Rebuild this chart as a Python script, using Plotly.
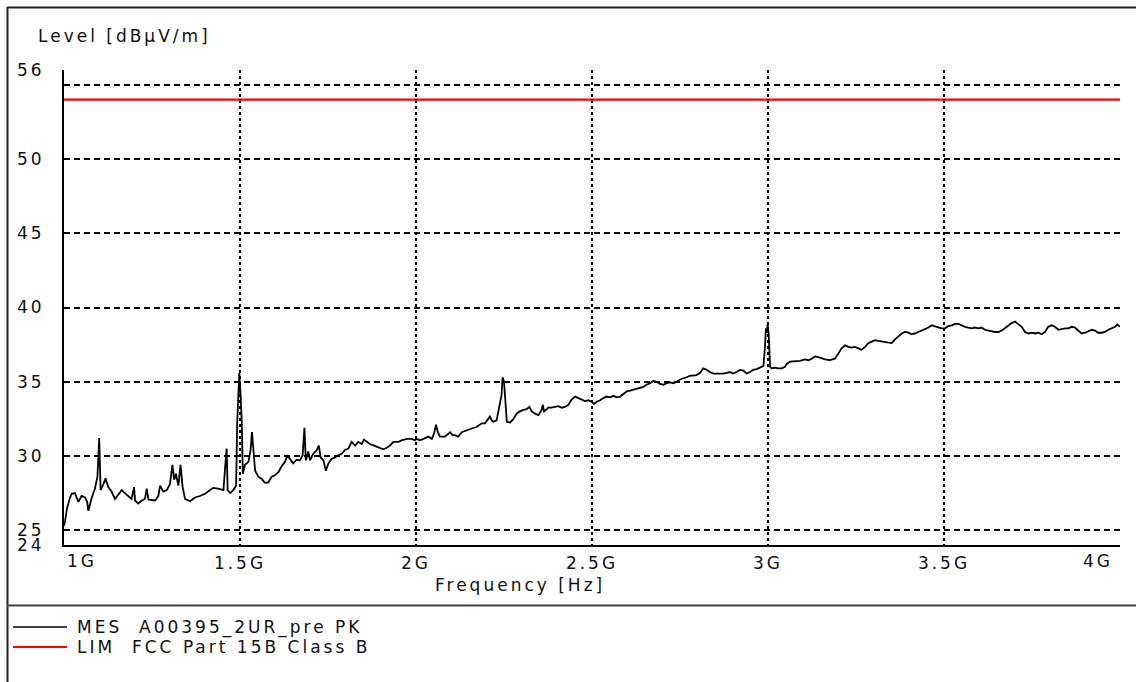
import plotly.graph_objects as go

# ---------------- data ----------------
freq_ghz = [
    1.000, 1.003, 1.008, 1.012, 1.017, 1.022, 1.031, 1.041, 1.050, 1.060, 1.066, 1.069, 1.079, 1.088,
    1.095, 1.100, 1.102, 1.104, 1.112, 1.118, 1.126, 1.135, 1.145, 1.154, 1.164, 1.173, 1.183, 1.192,
    1.199, 1.202, 1.211, 1.221, 1.230, 1.235, 1.240, 1.249, 1.259, 1.268, 1.273, 1.282, 1.292, 1.301,
    1.308, 1.313, 1.318, 1.325, 1.331, 1.337, 1.344, 1.358, 1.372, 1.386, 1.401, 1.415, 1.424, 1.438,
    1.453, 1.457, 1.462, 1.465, 1.472, 1.481, 1.489, 1.492, 1.495, 1.498, 1.502, 1.505, 1.508, 1.514,
    1.524, 1.530, 1.534, 1.538,
    1.543, 1.552, 1.562, 1.570, 1.580, 1.590, 1.599, 1.609, 1.618, 1.628, 1.634, 1.642, 1.651, 1.661,
    1.670, 1.678, 1.683, 1.687, 1.694, 1.699, 1.708, 1.718, 1.724, 1.729, 1.737, 1.744, 1.751, 1.760,
    1.770, 1.779, 1.789, 1.798, 1.808, 1.817, 1.827, 1.836, 1.846, 1.852, 1.860, 1.869, 1.881, 1.893,
    1.907, 1.917, 1.926, 1.936, 1.950, 1.959, 1.974, 1.988, 1.997, 2.002, 2.011, 2.021, 2.035, 2.045,
    2.051, 2.057, 2.062, 2.068, 2.082, 2.097, 2.104, 2.111, 2.120, 2.130, 2.144, 2.158, 2.172, 2.187,
    2.196, 2.205, 2.210, 2.215, 2.220, 2.229, 2.237, 2.243, 2.246, 2.250, 2.253, 2.258,
    2.267, 2.277, 2.286, 2.295, 2.305, 2.314, 2.322, 2.329, 2.338, 2.348, 2.357, 2.360, 2.364, 2.376,
    2.385, 2.395, 2.404, 2.414, 2.423, 2.433, 2.442, 2.452, 2.461, 2.471, 2.480, 2.490, 2.499, 2.506,
    2.513, 2.523, 2.532, 2.542, 2.551, 2.561, 2.570, 2.580, 2.589, 2.599, 2.608, 2.617, 2.627, 2.636,
    2.646, 2.655, 2.665, 2.674, 2.684, 2.693, 2.703, 2.712, 2.722, 2.731, 2.741, 2.750, 2.759, 2.769,
    2.778, 2.788, 2.797, 2.807, 2.816, 2.826, 2.835, 2.845, 2.854, 2.864, 2.873, 2.883, 2.892, 2.901,
    2.911, 2.920, 2.930, 2.939, 2.949, 2.958, 2.968, 2.977, 2.987, 2.991, 2.994, 2.997, 2.999, 3.002,
    3.004, 3.006, 3.010, 3.020, 3.029, 3.039, 3.048, 3.053,
    3.063, 3.077, 3.091, 3.105, 3.115, 3.124, 3.134, 3.143, 3.153, 3.162, 3.176, 3.190, 3.200, 3.209,
    3.219, 3.228, 3.238, 3.247, 3.257, 3.266, 3.276, 3.285, 3.295, 3.304, 3.313, 3.323, 3.332, 3.342,
    3.351, 3.361, 3.370, 3.380, 3.389, 3.399, 3.408, 3.418, 3.427, 3.437, 3.446, 3.456, 3.465, 3.474,
    3.484, 3.493, 3.503, 3.512, 3.522, 3.531, 3.541, 3.550, 3.560, 3.569, 3.579, 3.588, 3.598, 3.607,
    3.616, 3.626, 3.635, 3.645, 3.654, 3.664, 3.673, 3.683, 3.692, 3.702, 3.711, 3.721, 3.730, 3.740,
    3.749, 3.759, 3.768, 3.778, 3.787, 3.796, 3.806, 3.815, 3.825, 3.834, 3.844, 3.853, 3.863, 3.872,
    3.882, 3.891, 3.901, 3.910, 3.920, 3.929, 3.938, 3.948, 3.957, 3.967, 3.976, 3.986, 3.992, 3.998,
    4.000,
]

mes_level = [
    25.3, 25.6, 26.4, 26.8, 27.2, 27.45, 27.5, 26.9, 27.3, 27.2, 26.9, 26.3, 27.2, 27.8,
    28.6, 31.2, 29.5, 27.7, 28.1, 28.5, 27.9, 27.6, 27.1, 27.4, 27.7, 27.5, 27.3, 27.1,
    27.9, 27.0, 26.8, 27.0, 27.1, 27.8, 27.05, 27.05, 27.0, 27.3, 28.0, 27.6, 27.7, 28.1,
    29.4, 28.4, 28.8, 28.0, 29.4, 27.9, 27.1, 26.95, 27.2, 27.3, 27.45, 27.7, 27.85, 27.8,
    27.7, 29.0, 30.5, 27.7, 27.5, 27.7, 28.0, 32.2, 33.5, 35.6, 34.0, 32.3, 28.8, 29.4,
    29.6, 30.4, 31.6, 30.5,
    29.0, 28.6, 28.45, 28.2, 28.2, 28.6, 28.7, 28.9, 29.3, 29.6, 30.0, 29.8, 29.5, 29.75,
    29.7, 30.05, 31.9, 29.7, 30.3, 29.7, 30.15, 30.4, 30.7, 29.9, 29.7, 29.0, 29.5, 29.8,
    29.9, 30.05, 30.15, 30.4, 30.5, 30.95, 30.7, 30.95, 30.8, 31.1, 30.95, 30.8, 30.7, 30.6,
    30.45, 30.55, 30.7, 30.95, 30.95, 31.05, 31.15, 31.15, 31.05, 31.15, 31.05, 31.15, 31.3, 31.15,
    31.5, 32.1, 31.6, 31.3, 31.3, 31.6, 31.4, 31.4, 31.3, 31.6, 31.75, 31.85, 31.95, 32.2,
    32.2, 32.5, 32.65, 32.4, 32.3, 32.4, 33.5, 34.1, 35.3, 35.0, 34.0, 32.3,
    32.25, 32.5, 32.85, 33.0, 33.1, 33.15, 33.3, 33.0, 32.85, 32.75, 33.1, 33.45, 33.0, 33.25,
    33.25, 33.3, 33.35, 33.25, 33.3, 33.45, 33.8, 34.0, 33.9, 33.75, 33.7, 33.75, 33.65, 33.5,
    33.65, 33.75, 33.9, 34.0, 33.95, 34.05, 33.95, 34.0, 34.15, 34.35, 34.4, 34.45, 34.55, 34.55,
    34.65, 34.8, 34.9, 35.05, 35.0, 34.85, 34.8, 34.9, 34.95, 34.9, 35.0, 35.15, 35.2, 35.3,
    35.4, 35.45, 35.45, 35.6, 35.9, 35.8, 35.65, 35.55, 35.55, 35.5, 35.55, 35.6, 35.65, 35.55,
    35.65, 35.8, 35.75, 35.55, 35.65, 35.8, 35.85, 35.95, 36.05, 37.2, 38.6, 38.3, 38.9, 38.2,
    37.0, 36.0, 35.9, 35.95, 35.9, 35.9, 36.0, 36.2,
    36.35, 36.35, 36.4, 36.5, 36.45, 36.55, 36.7, 36.65, 36.55, 36.5, 36.45, 36.55, 36.9, 37.25,
    37.45, 37.35, 37.3, 37.35, 37.25, 37.15, 37.35, 37.6, 37.7, 37.8, 37.75, 37.7, 37.7, 37.6,
    37.6, 37.85, 38.05, 38.25, 38.35, 38.3, 38.2, 38.25, 38.35, 38.45, 38.5, 38.65, 38.8, 38.75,
    38.7, 38.6, 38.6, 38.75, 38.8, 38.9, 38.9, 38.8, 38.7, 38.65, 38.6, 38.65, 38.6, 38.65,
    38.5, 38.45, 38.4, 38.35, 38.35, 38.45, 38.6, 38.8, 38.95, 39.05, 38.9, 38.7, 38.35, 38.25,
    38.3, 38.25, 38.3, 38.2, 38.35, 38.7, 38.8, 38.7, 38.5, 38.55, 38.6, 38.6, 38.7, 38.65,
    38.45, 38.25, 38.3, 38.4, 38.5, 38.45, 38.3, 38.3, 38.35, 38.5, 38.6, 38.7, 38.85, 38.7,
    38.7,
]

lim_freq_ghz = [1.0, 4.0]
lim_level = [54.0, 54.0]

x_tickvals_ghz = [1.0, 1.5, 2.0, 2.5, 3.0, 3.5, 4.0]
x_ticktext = ["", "1.5G", "2G", "2.5G", "3G", "3.5G", ""]
y_tickvals = [24, 25, 30, 35, 40, 45, 50, 55, 56]
y_ticktext = ["24", "25", "30", "35", "40", "45", "50", "", "56"]

series_names = ["MES  A00395_2UR_pre PK", "LIM  FCC Part 15B Class B"]
series_colors = ["#000000", "#ff0000"]

FONT = "DejaVu Sans"
FSIZE = 17
TXT = "#111111"

fig = go.Figure()
fig.add_trace(go.Scatter(
    x=[f * 1e9 for f in freq_ghz], y=mes_level, mode="lines",
    line=dict(color=series_colors[0], width=1.8), name=series_names[0], showlegend=False,
))
fig.add_trace(go.Scatter(
    x=[f * 1e9 for f in lim_freq_ghz], y=lim_level, mode="lines",
    line=dict(color=series_colors[1], width=2.2), name=series_names[1], showlegend=False,
))

fig.update_layout(
    width=1136, height=682,
    margin=dict(l=64, r=16, t=70, b=137),
    paper_bgcolor="white", plot_bgcolor="white",
    font=dict(family=FONT, size=FSIZE, color=TXT),
    showlegend=False,
)
fig.update_xaxes(
    range=[1e9, 4e9], tickvals=[v * 1e9 for v in x_tickvals_ghz], ticktext=x_ticktext,
    showline=True, linecolor="#000", linewidth=2,
    showgrid=True, gridcolor="#000", gridwidth=1.6, griddash="3px,3px",
    ticks="outside", ticklen=2, tickcolor="rgba(0,0,0,0)",
    zeroline=False, tickfont=dict(family=FONT, size=FSIZE, color=TXT),
)
fig.update_yaxes(
    range=[24, 56], tickvals=y_tickvals, ticktext=y_ticktext,
    showline=True, linecolor="#000", linewidth=2,
    showgrid=True, gridcolor="#000", gridwidth=1.5, griddash="6px,4px",
    ticks="outside", ticklen=14, tickcolor="rgba(0,0,0,0)",
    zeroline=False, tickfont=dict(family=FONT, size=FSIZE, color=TXT),
)

# pixel -> paper helpers for decorations
def px(xp):
    return (xp - 64) / 1056.0

def py(yp):
    return (545 - yp) / 475.0

ann = []
ann.append(dict(text="Level [dBµV/m]", xref="paper", yref="paper", x=px(36), y=py(36),
                xanchor="left", yanchor="middle", align="left", showarrow=False))
ann.append(dict(text="Frequency [Hz]", xref="paper", yref="paper", x=px(520), y=py(585),
                xanchor="center", yanchor="middle", showarrow=False))
ann.append(dict(text="1G", xref="x", yref="paper", x=x_tickvals_ghz[0] * 1e9, y=py(561),
                xanchor="left", yanchor="middle", align="left", xshift=1, showarrow=False))
ann.append(dict(text="4G", xref="x", yref="paper", x=x_tickvals_ghz[-1] * 1e9, y=py(561),
                xanchor="right", yanchor="middle", align="right", xshift=-5, showarrow=False))
# legend
for i, (nm, col) in enumerate(zip(series_names, series_colors)):
    yy = 627 + 20 * i
    ann.append(dict(text=nm, xref="paper", yref="paper", x=px(75), y=py(yy),
                    xanchor="left", yanchor="middle", align="left", showarrow=False))
fig.update_layout(annotations=ann)

shapes = []
# outer frame: top, left, separator
shapes.append(dict(type="line", xref="paper", yref="paper", x0=px(7), x1=px(1140), y0=py(7.5), y1=py(7.5),
                   line=dict(color="#222", width=2)))
shapes.append(dict(type="line", xref="paper", yref="paper", x0=px(7.5), x1=px(7.5), y0=py(7), y1=py(690),
                   line=dict(color="#222", width=2)))
shapes.append(dict(type="line", xref="paper", yref="paper", x0=px(7), x1=px(1140), y0=py(605.5), y1=py(605.5),
                   line=dict(color="#444", width=2)))
for i, col in enumerate(series_colors):
    yy = 627 + 20 * i
    shapes.append(dict(type="line", xref="paper", yref="paper", x0=px(13), x1=px(67), y0=py(yy), y1=py(yy),
                       line=dict(color=col, width=1.5 if i == 0 else 2.2)))
fig.update_layout(shapes=shapes)

post = """
document.body.style.margin = '0';
document.body.style.overflow = 'hidden';
var gd = document.getElementById('{plot_id}');
gd.querySelectorAll('text').forEach(function(t){ t.style.letterSpacing = '3px'; });
"""
fig.write_html("out.html", post_script=post, config={"displayModeBar": False})
